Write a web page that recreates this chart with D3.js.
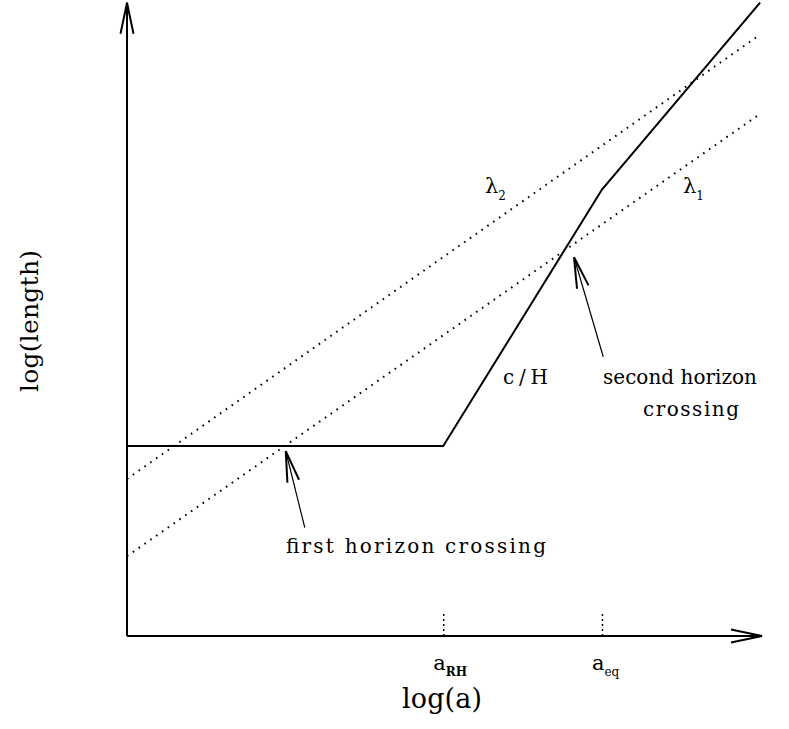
<!DOCTYPE html>
<html>
<head>
<meta charset="utf-8">
<script src="https://cdn.jsdelivr.net/npm/d3@7"></script>
<style>
  body { margin: 0; background: #fff; }
  text { font-family: "DejaVu Serif", serif; fill: #000; }
</style>
</head>
<body>
<svg class="chart"></svg>
<script>
// horizon size c/H, log(length) vs log(a)
var horizonX = [0, 4.98, 7.48, 9.97];
var horizonY = [3.0, 3.0, 7.05, 10.0];

// the two comoving wavelengths
var lambdaX = [0, 9.92];
var lambda1Y = [1.26, 8.21];
var lambda2Y = [2.48, 9.46];

// marked epochs on the log(a) axis
var epochX = [4.98, 7.48];
var epochMain = ["a", "a"];
var epochSub = ["RH", "eq"];

// arrows pointing at the crossings (tail -> tip)
var firstArrowX = [2.80, 2.50];
var firstArrowY = [1.71, 2.92];
var secondArrowX = [7.50, 7.04];
var secondArrowY = [4.41, 5.98];

var svgwidth = 789;
var svgheight = 729;

var svg = d3.select('.chart')
            .attr('width', svgwidth)
            .attr('height', svgheight);

var xScale = d3.scaleLinear()
               .domain([0, 10])
               .range([127, 762]);

var yScale = d3.scaleLinear()
               .domain([0, 10])
               .range([636, 2.7]);

var zip = function(xs, ys){
  return xs.map(function(x, i){ return {x: x, y: ys[i]}; });
};

var linemake = d3.line()
                 .x(function(d){ return xScale(d.x); })
                 .y(function(d){ return yScale(d.y); });

var defs = svg.append('defs');

defs.append('marker')
    .attr('id', 'axisHead')
    .attr('markerUnits', 'userSpaceOnUse')
    .attr('viewBox', '0 -8 34 16')
    .attr('refX', 32).attr('refY', 0)
    .attr('markerWidth', 34).attr('markerHeight', 16)
    .attr('orient', 'auto')
    .append('path')
    .attr('d', 'M1,-6.5L32,0L1,6.5')
    .attr('fill', 'none')
    .attr('stroke', '#000')
    .attr('stroke-width', 2);

defs.append('marker')
    .attr('id', 'noteHead')
    .attr('markerUnits', 'userSpaceOnUse')
    .attr('viewBox', '0 -8 34 16')
    .attr('refX', 32).attr('refY', 0)
    .attr('markerWidth', 34).attr('markerHeight', 16)
    .attr('orient', 'auto')
    .append('path')
    .attr('d', 'M1,-6L32,0L1,6')
    .attr('fill', 'none')
    .attr('stroke', '#000')
    .attr('stroke-width', 2);

// dotted epoch ticks
var xAxis = d3.axisBottom(xScale)
              .tickValues(epochX)
              .tickSizeInner(-24)
              .tickSizeOuter(0)
              .tickFormat('');

var gx = svg.append('g').classed('xAxis', true)
            .attr('transform', 'translate(0,' + yScale(0) + ')')
            .call(xAxis);
gx.select('.domain').remove();
gx.selectAll('.tick line')
  .attr('stroke', '#000')
  .attr('stroke-width', 1.5)
  .attr('stroke-dasharray', '2,3');

// axes with open arrow heads
svg.append('line')
   .attr('x1', xScale(0)).attr('y1', yScale(0))
   .attr('x2', xScale(10)).attr('y2', yScale(0))
   .attr('stroke', '#000').attr('stroke-width', 2)
   .attr('marker-end', 'url(#axisHead)');

svg.append('line')
   .attr('x1', xScale(0)).attr('y1', yScale(0))
   .attr('x2', xScale(0)).attr('y2', yScale(10))
   .attr('stroke', '#000').attr('stroke-width', 2)
   .attr('marker-end', 'url(#axisHead)');

// wavelengths (dotted)
[lambda1Y, lambda2Y].forEach(function(ys){
  svg.append('path')
     .datum(zip(lambdaX, ys))
     .attr('d', linemake)
     .attr('fill', 'none')
     .attr('stroke', '#000')
     .attr('stroke-width', 2)
     .attr('stroke-dasharray', '1.6,5.5');
});

// horizon
svg.append('path')
   .datum(zip(horizonX, horizonY))
   .attr('d', linemake)
   .attr('fill', 'none')
   .attr('stroke', '#000')
   .attr('stroke-width', 2)
   .attr('stroke-linejoin', 'miter');

// annotation arrows
[[firstArrowX, firstArrowY], [secondArrowX, secondArrowY]].forEach(function(a){
  svg.append('path')
     .datum(zip(a[0], a[1]))
     .attr('d', linemake)
     .attr('fill', 'none')
     .attr('stroke', '#000')
     .attr('stroke-width', 1.2)
     .attr('marker-end', 'url(#noteHead)');
});

// labels
var label = function(txt, x, y, size, len){
  var t = svg.append('text')
             .attr('x', x).attr('y', y)
             .style('font-size', size + 'px')
             .text(txt);
  if (len) t.attr('textLength', len).attr('lengthAdjust', 'spacing');
  return t;
};

label('c/H', 503, 384, 20, 45);
label('second horizon', 603, 384, 20, 154);
label('crossing', 643, 416, 20, 96);
label('first horizon crossing', 286, 553, 20, 260);

var lambdaLabel = function(sub, x){
  var t = svg.append('text').attr('x', x).attr('y', 193).style('font-size', '21px');
  t.append('tspan').text('λ');
  t.append('tspan').attr('dy', 7).style('font-size', '12px').text(sub);
};
lambdaLabel('2', 485);
lambdaLabel('1', 683);

epochX.forEach(function(v, i){
  var t = svg.append('text')
             .attr('x', xScale(v) - 10)
             .attr('y', 670)
             .style('font-size', '21px');
  t.append('tspan').text(epochMain[i]);
  t.append('tspan').attr('dy', 6)
   .style('font-size', '12px')
   .style('font-weight', i == 0 ? 'bold' : 'normal')
   .text(epochSub[i]);
});

label('log(a)', 402, 708, 27, 80);

svg.append('text')
   .attr('transform', 'translate(38,321) rotate(-90)')
   .attr('text-anchor', 'middle')
   .style('font-size', '25px')
   .attr('textLength', 142)
   .attr('lengthAdjust', 'spacing')
   .text('log(length)');
</script>
</body>
</html>
